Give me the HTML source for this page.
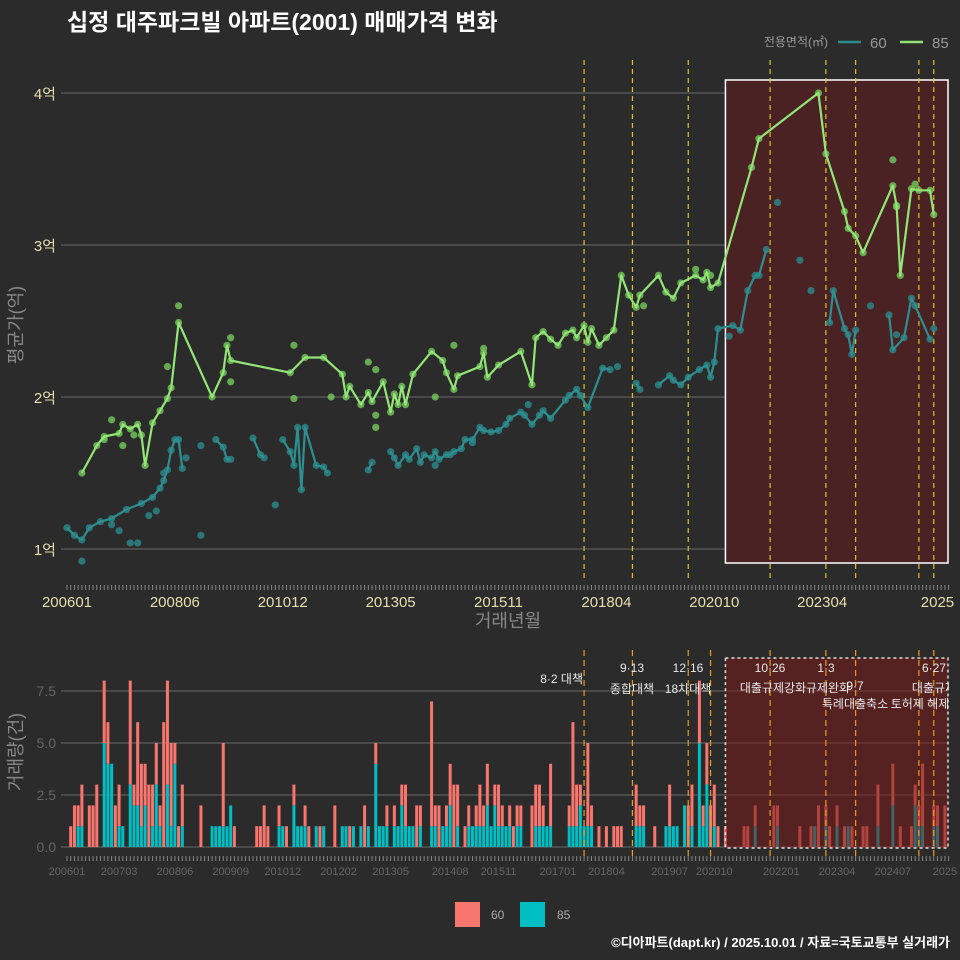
<!DOCTYPE html>
<html><head><meta charset="utf-8">
<style>
html,body{margin:0;padding:0;background:#2b2b2b;}
svg{display:block;font-family:"Liberation Sans","Noto Sans CJK KR",sans-serif;}
</style></head>
<body>
<svg id="chart" width="960" height="960" viewBox="0 0 960 960">
<rect x="0" y="0" width="960" height="960" fill="#2b2b2b"/>
<text x="67" y="30" fill="#ffffff" font-size="23" font-weight="bold">십정 대주파크빌 아파트(2001) 매매가격 변화</text>
<g>
<text x="828" y="46" fill="#999" font-size="12" text-anchor="end">전용면적(㎡)</text>
<line x1="838" y1="42" x2="861" y2="42" stroke="#2a8a8a" stroke-width="2.5"/>
<text x="870" y="48" fill="#999" font-size="15">60</text>
<line x1="900" y1="42" x2="923" y2="42" stroke="#8fe370" stroke-width="2.5"/>
<text x="932" y="48" fill="#999" font-size="15">85</text>
</g>
<g id="topPanel"></g>
<g id="botPanel"></g>
<text x="508" y="627" fill="#888" font-size="18" text-anchor="middle">거래년월</text>
<text transform="translate(22,325) rotate(-90)" fill="#888" font-size="18" text-anchor="middle">평균가(억)</text>
<text transform="translate(22,752) rotate(-90)" fill="#888" font-size="18" text-anchor="middle">거래량(건)</text>
<g>
<rect x="455" y="902" width="25" height="25" fill="#f8766d"/>
<text x="491" y="919" fill="#aaa" font-size="12">60</text>
<rect x="520" y="902" width="25" height="25" fill="#00bfc4"/>
<text x="557" y="919" fill="#aaa" font-size="12">85</text>
</g>
<text x="950" y="947" fill="#ffffff" font-size="13" font-weight="bold" text-anchor="end">©디아파트(dapt.kr) / 2025.10.01 / 자료=국토교통부 실거래가</text>
</svg>
<script>
// ---- data (months counted from 2006-01 = 0) ----
const priceTicks = [1, 2, 3, 4];
const priceTickLabels = ["1억", "2억", "3억", "4억"];
const xTickMonths = [0, 29, 58, 87, 116, 145, 174, 203, 234];
const xTickLabels = ["200601","200806","201012","201305","201511","201804","202010","202304","2025"];
const botTickMonths = [0,14,29,44,58,73,87,103,116,132,145,162,174,192,207,222,236];
const botTickLabels = ["200601","200703","200806","200909","201012","201202","201305","201408","201511","201701","201804","201907","202010","202201","202304","202407","2025"];
const volTicks = [0, 2.5, 5, 7.5];
const volTickLabels = ["0.0", "2.5", "5.0", "7.5"];
const policyMonths = [139, 152, 167, 173, 189, 204, 212, 229, 233];
const policyTop = [139, 152, 167, 189, 204, 212, 229, 233];

const line85M = [4,8,10,14,15,17,19,20,21,23,25,27,28,30,39,42,43,44,60,64,69,74,75,76,79,81,82,85,87,88,89,90,91,93,98,101,102,104,105,111,112,113,116,122,125,126,128,130,132,134,136,137,139,140,141,143,145,147,149,151,153,154,159,161,163,165,169,171,172,173,175,184,186,202,204,209,210,212,214,222,223,224,227,229,232,233];
const line85V = [1.5,1.68,1.74,1.76,1.82,1.79,1.82,1.75,1.55,1.83,1.91,1.99,2.06,2.49,2.0,2.16,2.34,2.24,2.16,2.26,2.26,2.15,2.0,2.07,1.95,2.03,1.97,2.1,1.9,2.02,1.95,2.07,1.95,2.15,2.3,2.24,2.16,2.05,2.14,2.2,2.29,2.13,2.21,2.3,2.08,2.39,2.43,2.38,2.34,2.42,2.44,2.39,2.47,2.36,2.45,2.34,2.39,2.44,2.8,2.67,2.59,2.67,2.8,2.69,2.65,2.75,2.8,2.77,2.82,2.72,2.75,3.51,3.7,4.0,3.6,3.22,3.11,3.06,2.95,3.39,3.26,2.8,3.37,3.36,3.36,3.2];
const extra85M = [30,44,44,61,61,83,83,83,81,104,112,10,12,15,27,18,222,228,223,71,99,155,169,173];
const extra85V = [2.6,2.39,2.1,2.34,1.99,2.18,1.88,1.8,2.23,2.34,2.32,1.72,1.85,1.68,2.2,1.75,3.56,3.4,3.25,2.0,2.0,2.6,2.84,2.8];

const line60M = [0,2,4,6,9,12,16,20,23,25,26,27,28,29,30,31,40,42,43,44,50,52,53,58,60,61,62,63,64,67,69,70,81,82,87,88,89,91,92,94,95,96,98,99,100,102,103,104,106,107,109,111,112,114,116,118,119,122,123,125,127,128,130,134,135,137,138,140,144,146,153,154,159,162,163,165,167,170,172,173,174,175,179,181,183,185,186,188,205,206,209,210,211,212,221,222,225,227,228,232];
const line60V = [1.14,1.09,1.06,1.14,1.18,1.2,1.26,1.3,1.34,1.4,1.45,1.52,1.65,1.72,1.72,1.53,1.72,1.67,1.59,1.59,1.73,1.62,1.6,1.72,1.64,1.55,1.8,1.39,1.8,1.55,1.54,1.5,1.52,1.57,1.64,1.6,1.55,1.62,1.59,1.66,1.57,1.62,1.6,1.64,1.59,1.62,1.62,1.64,1.66,1.72,1.72,1.8,1.78,1.77,1.78,1.82,1.86,1.9,1.88,1.82,1.88,1.91,1.86,1.98,2.01,2.05,2.01,1.93,2.19,2.18,2.09,2.05,2.08,2.14,2.11,2.08,2.13,2.18,2.21,2.13,2.23,2.45,2.47,2.44,2.7,2.8,2.8,2.97,2.49,2.7,2.45,2.41,2.28,2.44,2.54,2.31,2.39,2.65,2.6,2.38];
const extra60M = [4,17,19,36,36,56,197,200,216,223,233,191,12,14,22,24,26,32,99,109,124,148,178];
const extra60V = [0.92,1.04,1.04,1.09,1.68,1.29,2.9,2.7,2.6,2.41,2.45,3.28,1.16,1.12,1.22,1.25,1.5,1.6,1.55,1.7,1.95,2.2,2.4];

const volMonths = [1,2,3,4,6,7,8,10,11,12,13,14,15,17,18,19,20,21,22,23,24,25,26,27,28,29,30,31,36,39,40,41,42,43,44,45,51,52,53,54,57,58,59,61,62,63,64,65,67,68,69,72,74,75,76,77,79,80,81,83,84,85,86,88,89,90,91,92,93,94,95,98,99,100,101,102,103,104,105,107,108,109,110,111,112,113,114,115,116,117,118,119,120,121,122,125,126,127,128,129,130,132,135,136,137,138,139,140,141,143,145,147,148,149,153,154,155,158,161,162,163,164,166,167,168,169,170,171,172,173,174,175,176,177,180,182,183,185,190,191,197,200,201,202,204,205,207,209,210,211,214,215,218,219,222,224,227,228,229,230,231,233,234,236];
const vol60 = [1,2,1,2,2,2,3,3,2,0,2,2,0,5,1,4,3,2,3,2,2,1,6,5,4,1,1,2,2,0,0,0,4,0,0,1,1,1,2,1,1,0,1,1,0,0,1,1,0,1,0,2,0,0,1,0,0,2,0,1,0,0,1,1,0,1,2,0,0,2,1,6,1,2,0,1,2,3,2,1,1,0,1,2,1,2,0,1,2,1,0,1,1,1,1,2,2,2,1,0,3,0,1,5,2,1,0,4,1,1,1,1,1,1,2,1,1,1,0,2,0,0,0,2,2,0,3,1,2,2,2,1,0,1,0,1,1,1,2,1,1,1,0,2,1,1,1,1,0,1,1,1,2,0,2,1,1,1,1,3,0,1,1,2];
const vol85 = [0,0,1,1,0,0,0,5,4,4,0,1,1,3,2,2,1,2,0,1,3,1,0,3,1,4,0,1,0,1,1,1,1,1,2,0,0,0,0,0,1,1,0,2,1,1,1,0,1,0,1,0,1,1,0,1,1,0,1,4,1,1,1,1,1,2,1,1,1,0,1,1,1,0,1,1,2,0,1,0,1,1,1,1,1,2,1,2,1,1,1,1,0,1,1,0,1,1,1,1,1,0,1,1,1,2,1,1,1,0,0,0,0,0,1,1,1,0,1,1,1,1,2,0,1,0,5,1,3,0,1,0,0,0,0,0,0,1,0,1,0,0,1,0,1,0,1,0,1,0,0,0,1,0,2,0,0,2,1,1,0,1,1,0];

const SVGNS = "http://www.w3.org/2000/svg";
function mk(tag, attrs, parent) {
  const e = document.createElementNS(SVGNS, tag);
  for (const k in attrs) e.setAttribute(k, attrs[k]);
  parent.appendChild(e);
  return e;
}
const xTop = m => 67 + m * 3.72;
const yTop = v => 549 - (v - 1) * 152;
const xBot = m => 67 + m * 3.72;
const yBot = v => 847 - v * 20.8;

// ---------- top panel ----------
const topG = document.getElementById('topPanel');
priceTicks.forEach((t, i) => {
  const g = mk('line', {x1: 61, x2: 948, y1: yTop(t), y2: yTop(t), stroke: '#6a6a6a', 'stroke-width': 1}, topG);
  
  
  const tx = mk('text', {x: 56, y: yTop(t) + 6, fill: '#e6dfae', 'font-size': 15, 'text-anchor': 'end'}, topG);
  tx.textContent = priceTickLabels[i];
  
  
});
const shade = mk('rect', {x: xTop(177), y: 80, width: 948 - xTop(177), height: 483, fill: '#4a2224', stroke: '#ffffff', 'stroke-width': 1.5}, topG);


policyTop.forEach(m => {
  const l = mk('line', {x1: xTop(m), x2: xTop(m), y1: 60, y2: 580, stroke: '#d9c52a', 'stroke-width': 1.2, 'stroke-dasharray': '5,4'}, topG);
  
  
});
for (let m = 0; m <= 237; m++) {
  const t = mk('line', {x1: xTop(m), x2: xTop(m), y1: 585, y2: 590, stroke: '#888', 'stroke-width': 1}, topG);
  
  
}
xTickMonths.forEach((m, i) => {
  const tx = mk('text', {x: xTop(m), y: 607, fill: '#e6dfae', 'font-size': 15, 'text-anchor': 'middle'}, topG);
  tx.textContent = xTickLabels[i];
  
  
});
function drawLine(ms, vs, color, gap, name) {
  let d = '';
  ms.forEach((m, i) => {
    const v = vs[i];
    if (v === undefined) return;
    const brk = i === 0 || (gap > 0 && m - ms[i - 1] > gap);
    d += (brk ? 'M' : 'L') + xTop(m).toFixed(1) + ',' + yTop(v).toFixed(1);
  });
  const p = mk('path', {d: d, fill: 'none', stroke: color, 'stroke-width': 2.2, 'stroke-linejoin': 'round'}, topG);
  
  
}
function drawPts(ms, vs, color, name) {
  ms.forEach((m, i) => {
    if (vs[i] === undefined) return;
    const c = mk('circle', {cx: xTop(m), cy: yTop(vs[i]), r: 3.6, fill: color, 'fill-opacity': 0.8}, topG);
    
    
  });
}
drawPts(line60M, line60V, '#2b8a8c', 'point-60');
drawPts(extra60M, extra60V, '#2b8a8c', 'point-60');
drawLine(line60M, line60V, '#2e8f90', 4, 'line-60');
drawPts(line85M, line85V, '#74c95c', 'point-85');
drawPts(extra85M, extra85V, '#74c95c', 'point-85');
drawLine(line85M, line85V, '#92e576', 0, 'line-85');

// ---------- bottom panel ----------
const botG = document.getElementById('botPanel');
volTicks.forEach((t, i) => {
  const g = mk('line', {x1: 61, x2: 948, y1: yBot(t), y2: yBot(t), stroke: '#6a6a6a', 'stroke-width': 1}, botG);
  
  
  const tx = mk('text', {x: 56, y: yBot(t) + 5, fill: '#666', 'font-size': 14, 'text-anchor': 'end'}, botG);
  tx.textContent = volTickLabels[i];
  
  
});
const bw = 3.0;
volMonths.forEach((m, i) => {
  const x = xBot(m) - bw / 2;
  const h85 = vol85[i] || 0, h60 = vol60[i] || 0;
  if (h85 > 0) {
    const r = mk('rect', {x: x, y: yBot(h85), width: bw, height: yBot(0) - yBot(h85), fill: '#00bfc4'}, botG);
    
    
  }
  if (h60 > 0) {
    const r = mk('rect', {x: x, y: yBot(h85 + h60), width: bw, height: yBot(h85) - yBot(h85 + h60), fill: '#f8766d'}, botG);
    
    
  }
});
const shade2 = mk('rect', {x: xBot(177), y: 658, width: 948 - xBot(177), height: 190, fill: '#7a1a1a', 'fill-opacity': 0.55, stroke: '#dddddd', 'stroke-width': 1.5, 'stroke-dasharray': '3,3'}, botG);


policyMonths.forEach(m => {
  const l = mk('line', {x1: xBot(m), x2: xBot(m), y1: 650, y2: 857, stroke: '#e0a020', 'stroke-width': 1.2, 'stroke-dasharray': '6,4'}, botG);
  
  
});
for (let m = 0; m <= 237; m++) {
  const t = mk('line', {x1: xBot(m), x2: xBot(m), y1: 856, y2: 861, stroke: '#888', 'stroke-width': 1}, botG);
  
  
}
botTickMonths.forEach((m, i) => {
  const tx = mk('text', {x: xBot(m), y: 875, fill: '#666', 'font-size': 11, 'text-anchor': 'middle'}, botG);
  tx.textContent = botTickLabels[i];
  
  
});
const notes = [
  [583, 683, '8·2 대책', 'end'], [632, 672, '9·13', 'middle'], [632, 693, '종합대책', 'middle'],
  [688, 672, '12·16', 'middle'], [688, 693, '18차대책', 'middle'], [770, 672, '10·26', 'middle'],
  [773, 692, '대출규제강화', 'middle'], [826, 672, '1·3', 'middle'], [828, 692, '규제완화', 'middle'],
  [855, 690, '9·7', 'middle'], [855, 708, '특례대출축소', 'middle'], [920, 708, '토허제 해제', 'middle'],
  [934, 672, '6·27', 'middle'], [934, 692, '대출규제', 'middle']
];
const clip = mk('clipPath', {id: 'cl'}, botG);
mk('rect', {x: 0, y: 640, width: 949, height: 220}, clip);
const ng = mk('g', {'clip-path': 'url(#cl)'}, botG);
notes.forEach(n => {
  const t = mk('text', {x: n[0], y: n[1], fill: '#e8e8e8', 'font-size': 12, 'text-anchor': n[3]}, ng);
  t.textContent = n[2];
  
  
});
</script>
</body></html>
